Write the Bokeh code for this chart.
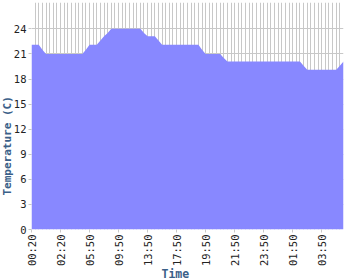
import math
from bokeh.plotting import figure
from bokeh.models import FixedTicker, Range1d, Title
from bokeh.embed import file_html
from bokeh.resources import INLINE

# Data: temperature readings (index = sample number)
temps = [22.1, 22.1, 22.1, 21.5, 21.0, 21.0, 21.0, 21.0, 21.0, 21.0,
         21.0, 21.0, 21.0, 21.0, 21.0, 21.5, 22.1, 22.1, 22.1, 22.6,
         23.1, 23.5, 24.0, 24.0, 24.0, 24.0, 24.0, 24.0, 24.0, 24.0,
         24.0, 23.5, 23.1, 23.1, 23.1, 22.6, 22.1, 22.1, 22.1, 22.1,
         22.1, 22.1, 22.1, 22.1, 22.1, 22.1, 22.1, 21.5, 21.0, 21.0,
         21.0, 21.0, 21.0, 20.5, 20.1, 20.1, 20.1, 20.1, 20.1, 20.1,
         20.1, 20.1, 20.1, 20.1, 20.1, 20.1, 20.1, 20.1, 20.1, 20.1,
         20.1, 20.1, 20.1, 20.1, 20.1, 19.6, 19.1, 19.1, 19.1, 19.1,
         19.1, 19.1, 19.1, 19.1, 19.1, 19.6, 20.1]
time_labels = ["00:20", "02:20", "05:50", "09:50", "13:50", "17:50",
               "19:50", "21:50", "23:50", "01:50", "03:50"]
label_every = 8
y_ticks = [0, 3, 6, 9, 12, 15, 18, 21, 24]

xs = list(range(len(temps)))
zeros = [0] * len(temps)

p = figure(width=350, height=280, output_backend="svg", toolbar_location=None,
           min_border_left=31, min_border_right=7, min_border_top=2,
           min_border_bottom=51)
p.x_range = Range1d(0, len(temps) - 1)
p.y_range = Range1d(0, 27.15)
p.outline_line_color = None
p.background_fill_color = "white"
p.border_fill_color = "white"

p.varea(x=xs, y1=zeros, y2=temps, fill_color="#8888ff", fill_alpha=1.0)

mono = "DejaVu Sans Mono"
grid_color = "#c8c8c8"

# x axis
tick_pos = [i * label_every for i in range(len(time_labels))]
p.xaxis.ticker = FixedTicker(ticks=tick_pos)
p.xaxis.major_label_overrides = {t: l for t, l in zip(tick_pos, time_labels)}
p.xaxis.major_label_orientation = math.pi / 2
p.xaxis.major_label_text_font = mono
p.xaxis.major_label_text_font_size = "10.5px"
p.xaxis.major_label_text_color = "#222222"
p.xaxis.major_label_standoff = 2
p.xaxis.axis_line_color = None
p.xaxis.major_tick_line_color = grid_color
p.xaxis.major_tick_in = 0
p.xaxis.major_tick_out = 3
p.xaxis.minor_tick_line_color = None

# y axis
p.yaxis.ticker = FixedTicker(ticks=y_ticks)
p.yaxis.major_label_text_font = mono
p.yaxis.major_label_text_font_size = "10.5px"
p.yaxis.major_label_text_color = "#222222"
p.yaxis.major_label_standoff = 2
p.yaxis.axis_line_color = None
p.yaxis.major_tick_line_color = grid_color
p.yaxis.major_tick_in = 0
p.yaxis.major_tick_out = 3
p.yaxis.minor_tick_line_color = None

# grids
p.xgrid.ticker = FixedTicker(ticks=xs)
p.xgrid.grid_line_color = grid_color
p.ygrid.ticker = FixedTicker(ticks=y_ticks)
p.ygrid.grid_line_color = grid_color

title_color = "#3a6088"
p.add_layout(Title(text="Time", align="left", offset=130, standoff=-5,
                   vertical_align="top",
                   text_font=mono, text_font_size="11.5px", text_font_style="bold",
                   text_color=title_color), "below")
p.add_layout(Title(text="Temperature (C)", align="left", offset=34, standoff=-6,
                   text_font=mono, text_font_size="11px", text_font_style="bold",
                   text_color=title_color), "left")

open("out.html", "w").write(file_html(p, INLINE))
